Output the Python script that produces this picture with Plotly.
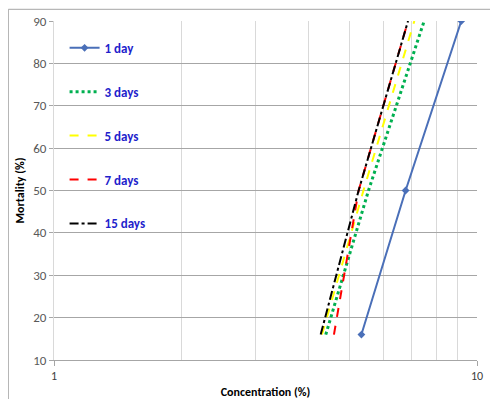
import plotly.graph_objects as go

# Data (x = concentration %, y = mortality %)
mortality = [16, 50, 90]
conc_1day = [5.33, 6.78, 9.18]
conc_3days = [4.39, 5.54, 7.50]
conc_5days = [4.30, 5.39, 7.11]
conc_7days = [4.59, 5.25, 6.87]
conc_15days = [4.27, 5.25, 6.87]

series_names = ["1 day", "3 days", "5 days", "7 days", "15 days"]
series_x = [conc_1day, conc_3days, conc_5days, conc_7days, conc_15days]
series_color = ["#4a6fb8", "#00b050", "#ffff00", "#ff0000", "#000000"]
series_dash = ["solid", "dot", "dash", "dash", "dashdot"]
series_width = [2, 3, 2, 2, 2]

y_ticks = [10, 20, 30, 40, 50, 60, 70, 80, 90]
x_ticks = [1, 10]
x_tick_text = ["1", "10"]
x_minor = [2, 3, 4, 5, 6, 7, 8, 9]

FONT = "Carlito, 'Liberation Sans Narrow', 'Arial Narrow', 'Liberation Sans', Arial, sans-serif"

fig = go.Figure()
for i, (name, xs) in enumerate(zip(series_names, series_x)):
    fig.add_trace(go.Scatter(
        x=xs, y=mortality, name=name, legendgroup=name,
        mode="lines+markers" if i == 0 else "lines",
        line=dict(color=series_color[i], dash=series_dash[i], width=series_width[i]),
        marker=dict(symbol="diamond", size=6, color=series_color[i]),
    ))

fig.update_layout(
    width=490, height=391,
    margin=dict(l=46, r=21, t=13, b=39, autoexpand=False),
    paper_bgcolor="white", plot_bgcolor="white",
    font=dict(family=FONT, size=12, color="#595959"),
    showlegend=True,
    legend=dict(
        x=0.025, y=0.965, xanchor="left", yanchor="top",
        bgcolor="rgba(0,0,0,0)", tracegroupgap=24,
        font=dict(family=FONT, size=13, color="#1f1fcc", weight="bold"),
    ),
    xaxis=dict(
        type="log", range=[0, 1], automargin=False,
        tickmode="array", tickvals=x_ticks, ticktext=x_tick_text,
        ticks="outside", ticklen=5, tickcolor="#a6a6a6",
        showgrid=True, gridcolor="#d9d9d9", gridwidth=1,
        minor=dict(tickmode="array", tickvals=x_minor, showgrid=True,
                   gridcolor="#d9d9d9", gridwidth=1, ticks=""),
        showline=True, linecolor="#a6a6a6", linewidth=1,
        zeroline=False,
        tickfont=dict(family=FONT, size=12, color="#404040"),
        title=dict(text="<b>Concentration (%)</b>", standoff=8,
                   font=dict(family=FONT, size=12, color="#000000")),
    ),
    yaxis=dict(
        range=[10, 90], automargin=False,
        tickmode="array", tickvals=y_ticks,
        ticks="outside", ticklen=4, tickcolor="#a6a6a6",
        showgrid=True, gridcolor="#a6a6a6", gridwidth=1,
        showline=True, linecolor="#d9d9d9", linewidth=1,
        zeroline=False,
        tickfont=dict(family=FONT, size=13, color="#595959"),
        title=dict(text="<b>Mortality (%)</b>", standoff=6,
                   font=dict(family=FONT, size=12, color="#000000")),
    ),
    shapes=[
        dict(type="line", xref="paper", yref="paper", x0=-0.108, x1=1.2,
             y0=1.0345, y1=1.0345, line=dict(color="#a6a6a6", width=1)),
        dict(type="line", xref="paper", yref="paper", x0=-0.108, x1=-0.108,
             y0=-0.3, y1=1.0345, line=dict(color="#a6a6a6", width=1)),
    ],
)

fig.write_html("out.html")
